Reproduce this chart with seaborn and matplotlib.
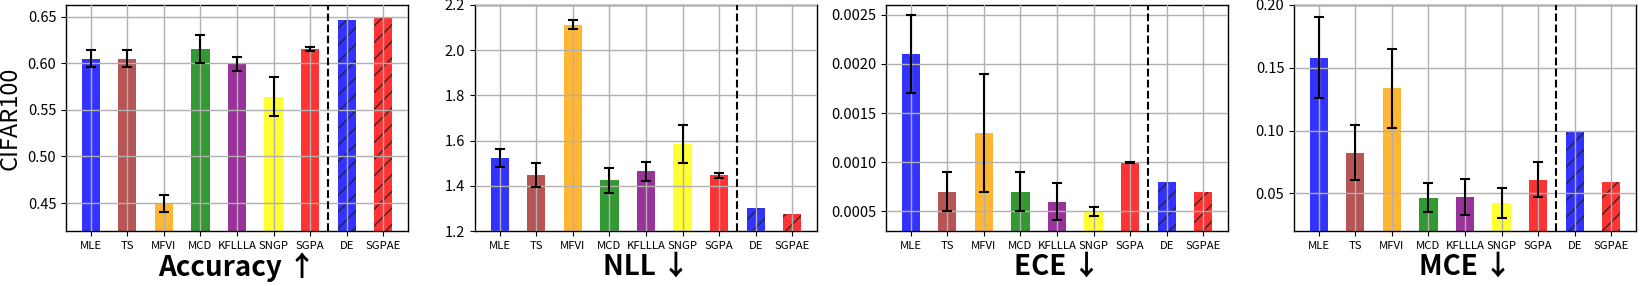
import numpy as np
import pandas as pd
import matplotlib
matplotlib.use("Agg")
import matplotlib.pyplot as plt
import seaborn as sns

plt.rcParams['font.family'] = ['Noto Sans CJK SC', 'DejaVu Sans']
plt.rcParams['axes.unicode_minus'] = False
plt.rcParams['hatch.linewidth'] = 1.1

# data
methods = ['MLE', 'TS', 'MFVI', 'MCD', 'KFLLLA', 'SNGP', 'SGPA', 'DE', 'SGPAE']
colors = ['blue', 'brown', 'orange', 'green', 'purple', 'yellow', 'red', 'blue', 'red']

acc_mean = [0.605, 0.605, 0.4495, 0.6147, 0.5991, 0.564, 0.6149, 0.6468, 0.6489]
acc_err = [0.0095, 0.0095, 0.009, 0.015, 0.008, 0.021, 0.002]

nll_mean = [1.524, 1.449, 2.113, 1.424, 1.464, 1.583, 1.447, 1.301, 1.275]
nll_err = [0.040, 0.052, 0.021, 0.054, 0.042, 0.084, 0.011]

ece_mean = [0.0021, 0.0007, 0.0013, 0.0007, 0.0006, 0.0005, 0.0010, 0.0008, 0.0007]
ece_err = [0.0004, 0.0002, 0.0006, 0.0002, 0.00019, 0.000046, 0.000004]

mce_mean = [0.158, 0.0824, 0.1338, 0.0467, 0.0473, 0.0423, 0.061, 0.0986, 0.0593]
mce_err = [0.032, 0.022, 0.0314, 0.0113, 0.0143, 0.012, 0.0136]

panels = [
    ('Accuracy ↑', acc_mean, acc_err, (0.42, 0.6625), [0.45, 0.50, 0.55, 0.60, 0.65], '%.2f'),
    ('NLL ↓', nll_mean, nll_err, (1.2, 2.2), [1.2, 1.4, 1.6, 1.8, 2.0, 2.2], '%.1f'),
    ('ECE ↓', ece_mean, ece_err, (0.0003, 0.0026), [0.0005, 0.0010, 0.0015, 0.0020, 0.0025], '%.4f'),
    ('MCE ↓', mce_mean, mce_err, (0.02, 0.20), [0.05, 0.10, 0.15, 0.20], '%.2f'),
]

fig = plt.figure(figsize=(16.44, 2.86), dpi=100)
lefts = [66, 475, 886, 1294]

for i, (name, mean, err, ylim, yticks, fmt) in enumerate(panels):
    ax = fig.add_axes([lefts[i] / 1644, 0.192, 342 / 1644, 0.791])
    df = pd.DataFrame({'method': methods, 'value': mean})
    sns.barplot(data=df, x='method', y='value', hue='method', palette=colors,
                legend=False, width=0.5, alpha=0.8, saturation=1, ax=ax,
                edgecolor='#222222', linewidth=0)
    # hatch untuk ensemble
    for j, p in enumerate(ax.patches):
        if j >= 7:
            p.set_hatch('//')
    ax.errorbar(x=np.arange(7), y=mean[:7], yerr=err, fmt='none', ecolor='black',
                elinewidth=1.5, capsize=3.5, capthick=1.5, zorder=3)
    ax.axvline(6.5, color='black', linestyle='--', linewidth=1.5, zorder=3)
    ax.set_xlim(-0.675, 8.675)
    ax.set_ylim(*ylim)
    ax.set_yticks(yticks)
    ax.set_yticklabels([fmt % t for t in yticks], fontsize=10.5)
    ax.tick_params(axis='x', labelsize=8.2)
    ax.grid(True, color='#b0b0b0', linewidth=1)
    ax.set_axisbelow(False)
    for s in ax.spines.values():
        s.set_color('black')
        s.set_linewidth(1)
    ax.set_xlabel(name, fontsize=20, fontweight='bold', labelpad=1)
    ax.set_ylabel('CIFAR100' if i == 0 else '', fontsize=17)

fig.savefig('out.png', dpi=100)
